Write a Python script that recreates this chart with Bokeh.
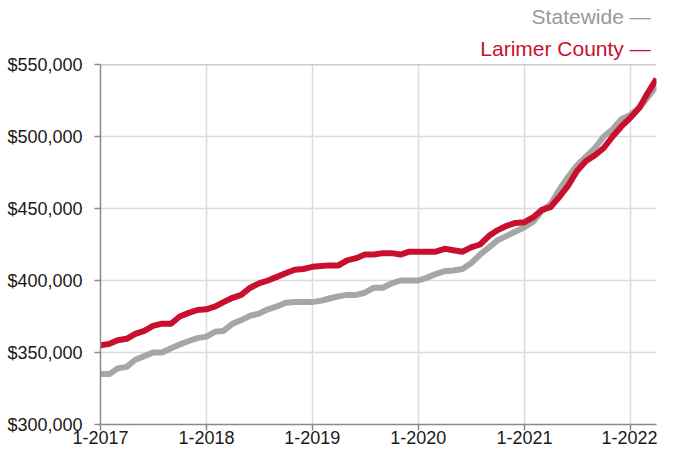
import pandas as pd
from bokeh.plotting import figure
from bokeh.models import (Range1d, FixedTicker, NumeralTickFormatter,
                          CustomJSTickFormatter, Span, Title)
from bokeh.embed import file_html
from bokeh.resources import INLINE

# ---- data (monthly, rolling 12-month median sales price) ----
months = pd.date_range("2017-01-01", periods=64, freq="MS")

statewide = [335000, 335000, 339000, 340000, 345000, 347500, 350000, 350000, 353000, 355500, 358000, 360000,
             361000, 364500, 365000, 370000, 372500, 375500, 377000, 380000, 382000, 384500, 385000, 385000,
             385000, 386000, 387500, 389000, 390000, 390000, 391500, 395000, 395000, 398000, 400000, 400000,
             400000, 402000, 404500, 406500, 407000, 408000, 412000, 418000, 423000, 428000, 431000, 434000,
             437000, 441000, 448000, 453000, 463000, 472000, 480000, 486000, 492000, 500000, 505000, 512000,
             515000, 520000, 527000, 535000]

larimer = [355000, 356000, 358500, 359500, 363000, 365000, 368500, 370000, 370000, 375000, 377500, 379500,
           380000, 382000, 385000, 388000, 390000, 395000, 398000, 400000, 402500, 405000, 407500, 408000,
           409500, 410000, 410500, 410500, 414000, 415500, 418000, 418000, 419000, 419000, 418000, 420000,
           420000, 420000, 420000, 422000, 421000, 420000, 423000, 425000, 431000, 435000, 438000, 440000,
           440500, 444000, 449000, 451000, 458000, 466000, 476000, 483000, 487000, 492000, 500000, 507000,
           513000, 520000, 530000, 540000]

year_ticks = ["2017-01-01", "2018-01-01", "2019-01-01", "2020-01-01", "2021-01-01", "2022-01-01"]
y_ticks = [300000, 350000, 400000, 450000, 500000, 550000]

series_names = ["Statewide", "Larimer County"]
GRAY = "#a6a6a6"
RED = "#c8102e"
FONT = "Liberation Sans"

W, H = 657, 450

x0 = months[0]
x1 = months[-1]
p = figure(width=W, height=H, output_backend="svg", toolbar_location=None,
           x_axis_type="datetime",
           x_range=Range1d(x0, x1), y_range=Range1d(300000, 550000),
           min_border_left=100, min_border_right=1, min_border_top=0, min_border_bottom=26)
p.outline_line_color = None
p.background_fill_color = "white"

p.line(months, statewide, line_color=GRAY, line_width=6, line_join="round")
p.line(months, larimer, line_color=RED, line_width=6, line_join="round")

tick_ms = [pd.Timestamp(t).value / 1e6 for t in year_ticks]
p.xaxis.ticker = FixedTicker(ticks=tick_ms)
p.xaxis.formatter = CustomJSTickFormatter(code="""
    const d = new Date(tick);
    return (d.getUTCMonth() + 1) + "-" + d.getUTCFullYear();
""")
p.yaxis.ticker = FixedTicker(ticks=y_ticks)
p.yaxis.formatter = NumeralTickFormatter(format="$0,0")

for ax in (p.xaxis[0], p.yaxis[0]):
    ax.axis_line_color = "#8a8a8a"
    ax.axis_line_width = 1.5
    ax.major_tick_line_color = "#8a8a8a"
    ax.major_tick_line_width = 1.5
    ax.major_tick_out = 6
    ax.major_tick_in = 0
    ax.minor_tick_line_color = None
    ax.major_label_text_font = FONT
    ax.major_label_text_font_size = "18px"
    ax.major_label_text_color = "#1a1a1a"
p.yaxis.major_label_standoff = 12
p.xaxis.major_label_standoff = 0

p.xgrid.ticker = FixedTicker(ticks=tick_ms)
p.ygrid.ticker = FixedTicker(ticks=y_ticks)
p.xgrid.grid_line_color = "#dcdcdc"
p.ygrid.grid_line_color = "#dcdcdc"
p.xgrid.grid_line_width = 1.5
p.ygrid.grid_line_width = 1.5

p.add_layout(Span(location=550000, dimension="width", line_color="#9a9a9a", line_width=1.5))

# legend: text followed by a dash, right-aligned above the plot
p.add_layout(Title(text=series_names[1] + "  —", align="right", text_color=RED,
                   text_font=FONT, text_font_size="21px", text_font_style="normal",
                   standoff=9), "above")
p.add_layout(Title(text=series_names[0] + "  —", align="right", text_color="#999999",
                   text_font=FONT, text_font_size="21px", text_font_style="normal",
                   standoff=5), "above")

open("out.html", "w").write(file_html(p, INLINE))
